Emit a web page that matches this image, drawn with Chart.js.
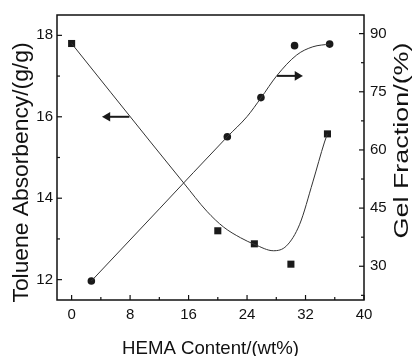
<!DOCTYPE html>
<html>
<head>
<meta charset="utf-8">
<script src="https://cdn.jsdelivr.net/npm/chart.js@4"></script>
<style>
  html, body { margin: 0; padding: 0; background: #fff; }
  #wrap { width: 412px; height: 356px; }
</style>
</head>
<body>
<div id="wrap"><canvas id="gelChart" width="412" height="356"></canvas></div>
<script>
// measured points
const tolueneX = [0, 20, 25, 30, 35];
const tolueneY = [17.8, 13.2, 12.88, 12.38, 15.58];
const gelX = [2.7, 21.3, 25.9, 30.5, 35.3];
const gelY = [26.2, 63.4, 73.5, 86.9, 87.3];

// fitted curves
const tolueneFitX = [0, 10.8, 15.35, 18.5, 20.8, 23.1, 25.1, 27.6, 29.4, 31.2, 33, 34.6, 35];
const tolueneFitY = [17.8, 15.38, 14.37, 13.68, 13.29, 13.03, 12.86, 12.71, 12.83, 13.36, 14.4, 15.38, 15.58];
const gelFitX = [2.7, 12, 21.3, 24, 25.9, 28.05, 30.8, 33, 35.3];
const gelFitY = [26.2, 44.8, 63.4, 68.6, 73.4, 79.1, 84.5, 86.6, 87.3];

// arrows telling which axis a curve belongs to (tail, tip)
const leftArrowX = [7.9, 4.9];
const leftArrowY = [16, 16];
const rightArrowX = [28.1, 30.9];
const rightArrowY = [79.1, 79.1];

// tick labels
const xTicks = [0, 8, 16, 24, 32, 40];
const leftTicks = [12, 14, 16, 18];
const rightTicks = [30, 45, 60, 75, 90];

const xTitle = "HEMA Content/(wt%)";
const leftTitle = "Toluene Absorbency/(g/g)";
const rightTitle = "Gel Fraction/(%)";

const pts = (xs, ys) => xs.map((x, i) => ({ x: x, y: ys[i] }));
const ink = "#1a1a1a";
const font = "'Liberation Sans', Arial, sans-serif";

// text stretched to the length it has in the scanned figure
function stretchedText(ctx, text, x, y, angle, size, len) {
  ctx.save();
  ctx.translate(x, y);
  ctx.rotate(angle);
  ctx.font = size + "px " + font;
  const w = ctx.measureText(text).width;
  ctx.scale(len / w, 1);
  ctx.textAlign = "center";
  ctx.textBaseline = "alphabetic";
  ctx.fillStyle = "#111";
  ctx.fillText(text, 0, 0);
  ctx.restore();
}

// box frame + inward tick marks + axis titles, like the original plot
const frameTicks = {
  id: "frameTicks",
  afterDatasetsDraw(chart) {
    const { ctx, chartArea: a, scales } = chart;
    ctx.save();
    ctx.strokeStyle = "#111";
    ctx.lineWidth = 1.5;
    ctx.strokeRect(a.left, a.top, a.right - a.left, a.bottom - a.top);
    ctx.lineWidth = 1.2;
    const mark = (scale, values, len, side) => {
      values.forEach((v) => {
        const p = scale.getPixelForValue(v);
        ctx.beginPath();
        if (side === "bottom") { ctx.moveTo(p, a.bottom); ctx.lineTo(p, a.bottom - len); }
        if (side === "left") { ctx.moveTo(a.left, p); ctx.lineTo(a.left + len, p); }
        if (side === "right") { ctx.moveTo(a.right, p); ctx.lineTo(a.right - len, p); }
        ctx.stroke();
      });
    };
    mark(scales.x, xTicks, 5, "bottom");
    mark(scales.x, xTicks.slice(0, -1).map((v) => v + 4), 3, "bottom");
    mark(scales.y, leftTicks, 5, "left");
    mark(scales.y, leftTicks.map((v) => v + 1), 3, "left");
    mark(scales.y1, rightTicks, 5, "right");
    mark(scales.y1, rightTicks.map((v) => v - 7.5), 3, "right");
    ctx.restore();

    const midX = (a.left + a.right) / 2;
    const midY = (a.top + a.bottom) / 2;
    stretchedText(ctx, xTitle, midX, 354, 0, 19, 177);
    stretchedText(ctx, leftTitle, 28, midY + 15, -Math.PI / 2, 22.5, 260);
    stretchedText(ctx, rightTitle, 408, midY - 17, -Math.PI / 2, 21, 196);
  },
};

const fixedTicks = (values) => (scale) => {
  scale.ticks = values.map((v) => ({ value: v }));
};

const tickFont = { family: font, size: 15 };

new Chart(document.getElementById("gelChart").getContext("2d"), {
  type: "scatter",
  data: {
    datasets: [
      {
        label: "Toluene fit",
        data: pts(tolueneFitX, tolueneFitY),
        yAxisID: "y",
        showLine: true,
        borderColor: "#333",
        borderWidth: 1,
        pointRadius: 0,
        cubicInterpolationMode: "monotone",
      },
      {
        label: "Gel fit",
        data: pts(gelFitX, gelFitY),
        yAxisID: "y1",
        showLine: true,
        borderColor: "#333",
        borderWidth: 1,
        pointRadius: 0,
        cubicInterpolationMode: "monotone",
      },
      {
        label: "Toluene Absorbency",
        data: pts(tolueneX, tolueneY),
        yAxisID: "y",
        pointStyle: "rect",
        pointRadius: 5,
        backgroundColor: ink,
        borderColor: ink,
        borderWidth: 0,
      },
      {
        label: "Gel Fraction",
        data: pts(gelX, gelY),
        yAxisID: "y1",
        pointStyle: "circle",
        pointRadius: 3.8,
        backgroundColor: ink,
        borderColor: ink,
        borderWidth: 0,
      },
      {
        label: "left arrow",
        data: pts(leftArrowX, leftArrowY),
        yAxisID: "y",
        showLine: true,
        borderColor: ink,
        borderWidth: 2,
        backgroundColor: ink,
        pointStyle: "triangle",
        pointRadius: [0, 3.5],
        rotation: [0, -90],
      },
      {
        label: "right arrow",
        data: pts(rightArrowX, rightArrowY),
        yAxisID: "y1",
        showLine: true,
        borderColor: ink,
        borderWidth: 2,
        backgroundColor: ink,
        pointStyle: "triangle",
        pointRadius: [0, 3.5],
        rotation: [0, 90],
      },
    ],
  },
  options: {
    responsive: false,
    animation: false,
    events: [],
    layout: { padding: { top: 11, left: 0, right: 0, bottom: 0 } },
    plugins: { legend: { display: false }, tooltip: { enabled: false } },
    scales: {
      x: {
        type: "linear",
        min: -2,
        max: 40,
        afterBuildTicks: fixedTicks(xTicks),
        afterFit: (s) => { s.height = 56; },
        grid: { display: false, drawTicks: false },
        border: { display: false },
        ticks: { color: "#111", padding: 6, font: tickFont },
      },
      y: {
        position: "left",
        min: 11.5,
        max: 18.5,
        afterBuildTicks: fixedTicks(leftTicks),
        afterFit: (s) => { s.width = 57; },
        grid: { display: false, drawTicks: false },
        border: { display: false },
        ticks: { color: "#111", padding: 4, font: tickFont },
      },
      y1: {
        position: "right",
        min: 21.3,
        max: 94.8,
        afterBuildTicks: fixedTicks(rightTicks),
        afterFit: (s) => { s.width = 48; },
        grid: { display: false, drawTicks: false },
        border: { display: false },
        ticks: { color: "#111", padding: 6, font: tickFont },
      },
    },
  },
  plugins: [frameTicks],
});
</script>
</body>
</html>
